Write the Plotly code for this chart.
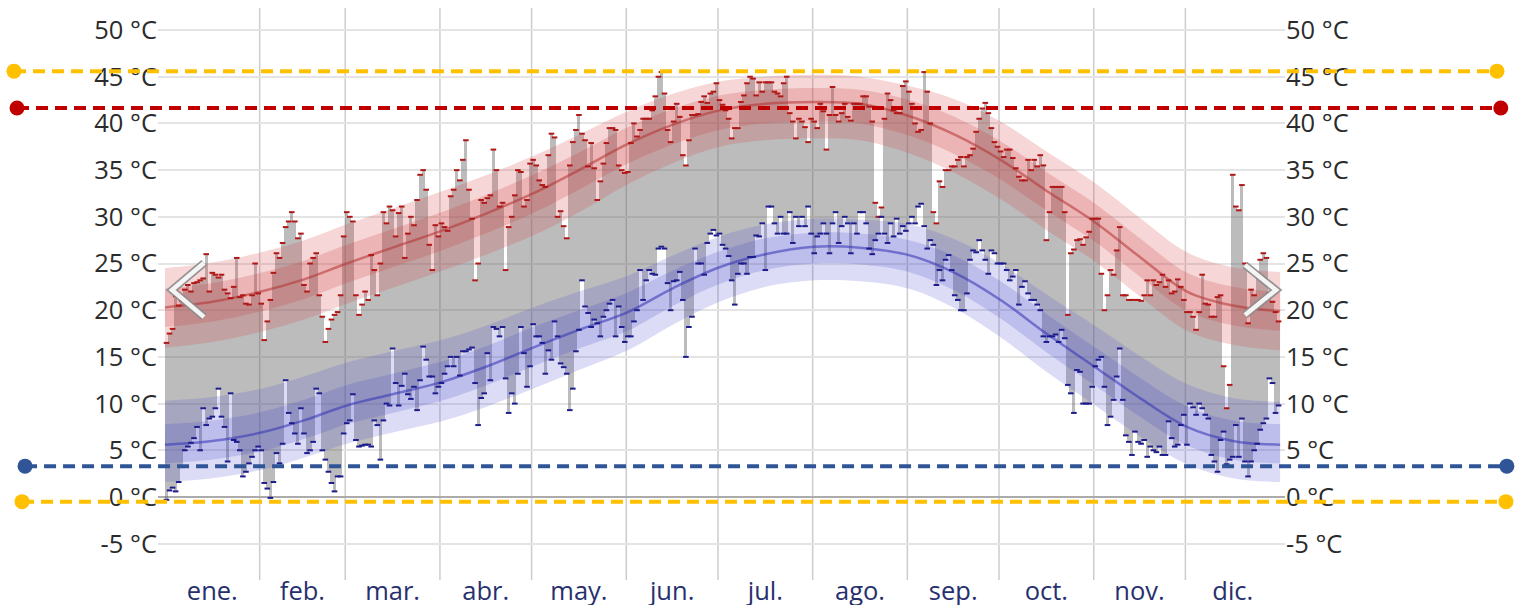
import plotly.graph_objects as go

# ---------------- data ----------------
MONTHS = ["ene.", "feb.", "mar.", "abr.", "may.", "jun.", "jul.", "ago.", "sep.", "oct.", "nov.", "dic."]
MONTH_DAYS = [31, 28, 31, 30, 31, 30, 31, 31, 30, 31, 30, 31]
Y_TICKS = [-5, 0, 5, 10, 15, 20, 25, 30, 35, 40, 45, 50]
Y_LABELS = ["-5 °C", "0 °C", "5 °C", "10 °C", "15 °C", "20 °C", "25 °C", "30 °C", "35 °C", "40 °C", "45 °C", "50 °C"]

# daily highs / lows (°C)
HIGH_JAN = [16.5, 17.5, 18.0, 21.5, 20.5, 21.0, 22.2, 22.7, 22.0, 22.9, 23.0, 23.2, 23.4, 26.0, 22.0, 24.0, 23.8, 23.5, 23.8, 22.2, 21.8, 21.3, 22.5, 25.6, 21.4, 21.6, 20.7, 20.6, 21.6, 25.0, 21.8]
LOW_JAN = [-0.3, 0.7, 1.0, 0.6, 1.6, 3.2, 5.0, 5.4, 5.8, 6.3, 7.5, 5.0, 9.5, 7.7, 8.4, 8.6, 9.5, 11.6, 8.6, 7.5, 3.8, 11.1, 6.1, 5.9, 5.0, 2.2, 2.7, 3.6, 4.3, 5.0, 5.4]
HIGH_FEB = [20.7, 16.8, 18.8, 21.1, 24.0, 26.1, 25.6, 27.2, 28.9, 29.5, 30.5, 29.5, 27.7, 28.2, 22.7, 22.0, 25.0, 25.6, 26.1, 21.6, 19.3, 16.6, 18.0, 19.0, 19.5, 19.8, 21.6, 27.9]
LOW_FEB = [5.0, 1.5, 0.9, -0.1, 1.6, 4.7, 3.6, 5.7, 12.5, 9.0, 7.9, 6.8, 5.7, 9.5, 6.8, 4.7, 5.0, 5.9, 11.6, 11.1, 5.0, 4.0, 2.7, 1.5, 0.6, 2.2, 2.2, 6.8]
HIGH_MAR = [30.5, 30.0, 29.5, 21.6, 19.5, 20.6, 22.0, 21.1, 25.9, 24.3, 21.6, 25.0, 30.5, 29.3, 31.1, 30.7, 27.9, 30.4, 31.1, 25.6, 28.2, 30.0, 29.1, 31.8, 34.5, 35.0, 32.9, 27.0, 24.3, 29.1, 27.9]
LOW_MAR = [7.9, 8.2, 11.0, 6.1, 5.4, 5.5, 5.6, 5.6, 5.4, 8.2, 7.7, 4.0, 8.2, 10.0, 9.8, 15.9, 12.2, 9.8, 11.9, 13.2, 11.0, 10.5, 11.8, 9.3, 12.5, 16.1, 14.7, 12.9, 12.9, 11.1, 11.8]
HIGH_APR = [29.3, 28.9, 28.5, 32.2, 32.9, 35.0, 33.9, 36.1, 38.2, 32.9, 29.8, 23.2, 25.0, 31.8, 31.5, 32.0, 32.3, 37.2, 35.0, 31.1, 31.5, 24.3, 28.9, 30.0, 32.3, 35.0, 34.8, 31.1, 31.8, 35.7]
LOW_APR = [12.2, 13.2, 14.0, 15.0, 14.0, 15.0, 13.0, 15.6, 15.6, 15.8, 16.0, 12.2, 7.7, 10.6, 11.1, 15.4, 12.5, 18.2, 18.0, 17.2, 18.2, 12.7, 9.0, 11.1, 10.0, 13.2, 18.2, 15.4, 11.8, 14.0]
HIGH_MAY = [36.1, 35.5, 33.9, 33.4, 33.2, 36.6, 38.9, 38.5, 30.0, 30.6, 29.0, 27.7, 35.5, 38.0, 39.3, 40.9, 38.9, 38.2, 35.4, 37.9, 35.2, 31.8, 33.8, 35.7, 37.9, 39.5, 39.5, 39.3, 35.5, 35.0, 34.7]
LOW_MAY = [18.5, 17.2, 17.2, 16.5, 13.2, 15.7, 14.7, 18.8, 17.2, 14.3, 13.9, 13.2, 9.3, 11.6, 15.6, 17.9, 23.2, 20.4, 19.7, 18.2, 19.0, 18.6, 17.2, 19.3, 20.0, 20.7, 21.1, 17.2, 20.4, 18.2, 16.6]
HIGH_JUN = [34.8, 37.9, 40.0, 38.6, 39.3, 40.5, 40.5, 40.5, 41.4, 42.9, 45.0, 45.5, 43.2, 39.3, 38.0, 40.2, 42.1, 40.7, 36.6, 35.5, 38.2, 40.9, 40.9, 41.0, 42.3, 42.9, 42.2, 43.2, 43.4, 44.3]
LOW_JUN = [17.2, 17.2, 18.8, 20.0, 24.3, 21.1, 23.2, 24.3, 23.9, 23.8, 26.6, 26.8, 26.6, 22.9, 20.0, 23.1, 23.2, 24.1, 21.1, 15.0, 18.2, 19.3, 26.6, 25.0, 25.0, 23.8, 27.2, 28.2, 28.6, 28.0]
HIGH_JUL = [42.5, 42.0, 41.4, 40.5, 38.4, 39.5, 39.5, 42.3, 43.0, 44.3, 45.0, 44.8, 43.0, 44.4, 43.4, 44.4, 44.4, 44.4, 43.4, 43.2, 42.9, 44.3, 45.0, 41.1, 40.2, 38.4, 40.5, 40.2, 39.6, 38.0, 40.5]
LOW_JUL = [28.2, 27.0, 26.6, 25.8, 23.2, 20.6, 23.9, 25.0, 25.0, 23.9, 25.7, 25.7, 28.0, 27.9, 29.3, 24.3, 31.1, 31.1, 29.3, 28.2, 30.0, 28.2, 28.2, 30.5, 27.2, 30.0, 29.0, 30.0, 29.0, 31.1, 28.2]
HIGH_AUG = [40.2, 39.5, 42.1, 41.3, 37.2, 40.9, 43.9, 40.9, 40.2, 41.1, 42.1, 40.7, 40.3, 42.1, 42.1, 42.1, 42.9, 42.9, 41.8, 40.2, 31.5, 30.0, 31.0, 40.5, 43.2, 42.5, 41.4, 41.1, 41.1, 44.0, 44.5]
LOW_AUG = [26.1, 27.9, 28.2, 29.3, 28.2, 26.1, 29.3, 30.5, 27.2, 29.0, 30.0, 29.3, 26.1, 29.3, 28.2, 30.5, 30.5, 29.3, 26.6, 26.0, 27.5, 28.2, 30.0, 28.2, 27.2, 29.3, 27.9, 29.8, 28.2, 29.0, 28.5]
HIGH_SEP = [43.4, 42.1, 40.0, 39.1, 39.3, 45.5, 43.4, 40.0, 30.5, 29.3, 33.8, 33.2, 35.0, 35.0, 35.4, 35.4, 36.1, 36.4, 35.4, 36.4, 36.6, 37.3, 39.1, 40.5, 41.6, 42.2, 41.1, 39.5, 38.0, 37.5]
LOW_SEP = [29.3, 30.0, 29.3, 31.1, 31.4, 29.0, 26.6, 27.5, 27.0, 22.7, 24.3, 23.2, 25.4, 25.9, 24.3, 21.6, 21.1, 20.0, 20.0, 21.8, 25.4, 26.4, 26.2, 27.5, 26.4, 25.4, 23.9, 26.4, 26.1, 25.0]
HIGH_OCT = [37.0, 36.4, 37.2, 37.2, 36.3, 35.2, 34.3, 33.9, 33.9, 36.1, 35.0, 36.1, 35.4, 36.6, 35.5, 27.5, 30.5, 33.2, 33.2, 33.2, 33.2, 30.5, 19.5, 26.1, 26.5, 27.5, 27.6, 27.0, 27.8, 28.4, 29.8]
LOW_OCT = [25.0, 25.0, 24.3, 23.2, 23.6, 24.3, 20.6, 22.5, 23.1, 21.8, 21.1, 21.1, 20.6, 20.0, 17.2, 16.6, 17.2, 17.2, 17.4, 16.6, 17.9, 17.0, 12.0, 11.1, 9.0, 13.6, 13.4, 10.0, 10.0, 10.0, 11.8]
HIGH_NOV = [29.8, 29.8, 23.9, 20.0, 21.6, 24.3, 23.8, 26.4, 28.9, 21.6, 21.6, 21.1, 21.1, 21.1, 21.1, 21.0, 21.6, 23.2, 21.6, 23.2, 22.7, 23.0, 23.8, 22.5, 23.2, 21.8, 22.0, 23.3, 22.5, 21.1]
LOW_NOV = [14.0, 14.7, 15.0, 11.8, 7.7, 8.6, 10.4, 12.9, 15.9, 10.4, 6.6, 5.9, 4.5, 7.0, 5.9, 5.7, 6.1, 4.3, 5.4, 5.0, 4.8, 5.4, 4.5, 4.5, 8.1, 6.3, 5.4, 5.6, 7.7, 8.8]
HIGH_DEC = [19.8, 19.8, 19.3, 17.9, 19.8, 23.8, 20.7, 20.6, 19.3, 19.3, 21.4, 21.6, 14.0, 9.5, 12.0, 34.5, 31.1, 30.7, 33.4, 25.0, 18.6, 22.2, 21.6, 23.9, 25.4, 26.1, 25.6, 21.8, 20.9, 19.8, 18.8]
LOW_DEC = [5.6, 10.0, 9.6, 8.8, 10.0, 9.5, 8.8, 8.4, 4.5, 3.8, 2.7, 6.1, 7.0, 3.5, 4.0, 4.3, 7.7, 4.3, 8.4, 3.8, 2.2, 3.8, 5.0, 5.7, 7.2, 7.9, 8.4, 12.7, 12.2, 9.0, 9.8]

# climatology bands (day of year -> °C)
BAND_DAYS = [-0.5, 15, 31, 45, 59, 74, 90, 105, 120, 135, 151, 166, 181, 196, 212, 227, 243, 258, 273, 288, 304, 319, 334, 349, 364.5]
HIGH_MEAN = [20.3, 20.9, 22.0, 23.3, 25.0, 26.7, 28.5, 30.4, 32.5, 35.0, 37.8, 39.9, 41.4, 42.1, 42.3, 42.1, 40.8, 38.8, 36.1, 32.8, 29.4, 25.6, 22.0, 20.5, 19.9]
HIGH_P90 = [24.5, 25.1, 26.2, 27.5, 29.2, 30.9, 32.7, 34.5, 36.5, 38.8, 41.3, 43.2, 44.5, 45.0, 45.2, 45.0, 44.0, 42.6, 40.2, 37.0, 33.6, 29.8, 26.2, 24.6, 24.1]
HIGH_P75 = [22.3, 22.9, 24.0, 25.3, 27.0, 28.7, 30.5, 32.4, 34.5, 36.9, 39.6, 41.6, 43.0, 43.6, 43.8, 43.6, 42.5, 40.7, 38.1, 34.8, 31.4, 27.6, 24.0, 22.5, 21.9]
HIGH_P25 = [18.2, 18.8, 19.9, 21.2, 22.9, 24.6, 26.4, 28.3, 30.4, 32.9, 35.7, 37.8, 39.3, 40.0, 40.2, 40.0, 38.7, 36.7, 34.0, 30.7, 27.3, 23.5, 19.9, 18.4, 17.8]
HIGH_P10 = [16.0, 16.6, 17.7, 19.0, 20.7, 22.4, 24.2, 26.0, 28.0, 30.5, 33.5, 35.8, 37.5, 38.2, 38.4, 38.2, 36.8, 34.7, 31.9, 28.6, 25.2, 21.4, 17.8, 16.3, 15.7]
LOW_MEAN = [5.6, 6.0, 6.9, 8.2, 9.8, 11.0, 12.3, 14.0, 16.0, 17.9, 19.8, 22.4, 24.6, 26.0, 26.8, 26.7, 25.9, 24.0, 21.1, 17.5, 13.9, 10.5, 7.5, 6.0, 5.6]
LOW_P90 = [10.3, 10.7, 11.6, 12.9, 14.4, 15.6, 16.8, 18.4, 20.3, 22.0, 23.7, 25.9, 27.9, 29.2, 29.8, 29.7, 29.2, 27.6, 25.0, 21.7, 18.3, 15.0, 12.1, 10.6, 10.2]
LOW_P75 = [7.8, 8.2, 9.1, 10.4, 12.0, 13.2, 14.5, 16.2, 18.2, 20.0, 21.9, 24.3, 26.3, 27.7, 28.3, 28.2, 27.5, 25.8, 23.1, 19.6, 16.0, 12.7, 9.7, 8.2, 7.8]
LOW_P25 = [3.6, 4.0, 4.9, 6.2, 7.8, 9.0, 10.3, 12.0, 14.0, 15.9, 17.8, 20.5, 22.8, 24.3, 25.0, 24.9, 24.1, 22.1, 19.1, 15.5, 11.9, 8.5, 5.5, 4.0, 3.6]
LOW_P10 = [1.6, 2.0, 2.9, 4.2, 5.7, 6.9, 8.1, 9.7, 11.6, 13.6, 15.7, 18.5, 20.9, 22.5, 23.2, 23.1, 22.3, 20.2, 17.1, 13.4, 9.8, 6.4, 3.5, 2.0, 1.6]

# reference lines (°C) drawn across the whole picture
THRESHOLDS = [45.6, 41.65, 3.3, -0.5]
THRESH_COLORS = ["#FFC000", "#C00000", "#2F5597", "#FFC000"]
THRESH_X0 = [0.0092, 0.0112, 0.0165, 0.0145]
THRESH_X1 = [0.9855, 0.9880, 0.9920, 0.9914]

HIGHS = (HIGH_JAN + HIGH_FEB + HIGH_MAR + HIGH_APR + HIGH_MAY + HIGH_JUN +
         HIGH_JUL + HIGH_AUG + HIGH_SEP + HIGH_OCT + HIGH_NOV + HIGH_DEC)
LOWS = (LOW_JAN + LOW_FEB + LOW_MAR + LOW_APR + LOW_MAY + LOW_JUN +
        LOW_JUL + LOW_AUG + LOW_SEP + LOW_OCT + LOW_NOV + LOW_DEC)
DAYS = list(range(len(HIGHS)))

month_starts = []
s = 0
for n in MONTH_DAYS:
    month_starts.append(s)
    s += n
month_mids = [st + (n - 1) / 2 for st, n in zip(month_starts, MONTH_DAYS)]

# ---------------- figure ----------------
W, H = 1519, 605
FONT = "Open Sans"
FS = 25.5
fig = go.Figure()

def band(lo, hi, color):
    fig.add_trace(go.Scatter(x=BAND_DAYS, y=lo, mode="lines", line=dict(width=0, shape="spline"),
                             hoverinfo="skip", showlegend=False))
    fig.add_trace(go.Scatter(x=BAND_DAYS, y=hi, mode="lines", line=dict(width=0, shape="spline"),
                             fill="tonexty", fillcolor=color, hoverinfo="skip", showlegend=False))

band(HIGH_P10, HIGH_P90, "rgba(214,70,70,0.22)")
band(HIGH_P25, HIGH_P75, "rgba(200,60,60,0.22)")
band(LOW_P10, LOW_P90, "rgba(80,80,210,0.20)")
band(LOW_P25, LOW_P75, "rgba(70,70,200,0.20)")

fig.add_trace(go.Scatter(x=BAND_DAYS, y=HIGH_MEAN, mode="lines",
                         line=dict(color="rgba(180,50,50,0.55)", width=2.5, shape="spline"),
                         hoverinfo="skip", showlegend=False))
fig.add_trace(go.Scatter(x=BAND_DAYS, y=LOW_MEAN, mode="lines",
                         line=dict(color="rgba(50,50,180,0.55)", width=2.5, shape="spline"),
                         hoverinfo="skip", showlegend=False))

fig.add_trace(go.Bar(x=DAYS, y=[h - l for h, l in zip(HIGHS, LOWS)], base=LOWS, width=1.0,
                     marker=dict(color="rgba(95,95,95,0.42)", line=dict(width=0)),
                     hoverinfo="skip", showlegend=False))

fig.add_trace(go.Scatter(x=DAYS, y=HIGHS, mode="markers",
                         marker=dict(symbol="line-ew", size=4, line=dict(width=2, color="#b01818")),
                         hoverinfo="skip", showlegend=False))
fig.add_trace(go.Scatter(x=DAYS, y=LOWS, mode="markers",
                         marker=dict(symbol="line-ew", size=4, line=dict(width=2, color="#1c1c8c")),
                         hoverinfo="skip", showlegend=False))

# invisible trace to carry the right-hand axis
fig.add_trace(go.Scatter(x=[DAYS[0]], y=[HIGHS[0]], yaxis="y2", mode="markers",
                         marker=dict(opacity=0), hoverinfo="skip", showlegend=False))

# reference dashed lines with end dots (full width, own axes so no extra grid)
for v, c, a, b in zip(THRESHOLDS, THRESH_COLORS, THRESH_X0, THRESH_X1):
    fig.add_trace(go.Scatter(x=[a, b], y=[v, v], xaxis="x2", yaxis="y3", mode="lines+markers",
                             line=dict(color=c, width=4, dash="12px,7px"),
                             marker=dict(color=c, size=15), cliponaxis=False,
                             hoverinfo="skip", showlegend=False))

shapes = []
for st in month_starts[1:]:
    shapes.append(dict(type="line", xref="x", yref="paper", x0=st - 0.5, x1=st - 0.5, y0=0, y1=1,
                       line=dict(color="rgba(0,0,0,0.2)", width=1.5), layer="below"))

# navigation chevrons
T_M, B_M = 8, 25
PH = H - T_M - B_M
def px(x):
    return x / W
def py(y):
    return (H - B_M - y) / PH
left_path = f"M {px(204)},{py(263)} L {px(172)},{py(290)} L {px(204)},{py(317)}"
right_path = f"M {px(1245)},{py(265)} L {px(1276)},{py(290)} L {px(1245)},{py(315)}"
for p in (left_path, right_path):
    shapes.append(dict(type="path", xref="paper", yref="paper", path=p,
                       line=dict(color="rgba(140,140,140,0.9)", width=8), layer="above"))
    shapes.append(dict(type="path", xref="paper", yref="paper", path=p,
                       line=dict(color="rgba(250,250,250,0.95)", width=4.5), layer="above"))

YR = [-8.89, 52.36]
fig.update_layout(
    width=W, height=H,
    margin=dict(l=0, r=0, t=T_M, b=B_M, autoexpand=False),
    paper_bgcolor="white", plot_bgcolor="rgba(0,0,0,0)",
    barmode="overlay", bargap=0,
    font=dict(family=FONT, size=FS, color="#2b2b2b"),
    showlegend=False, hovermode=False,
    shapes=shapes,
    xaxis=dict(domain=[158 / W, 1285 / W], range=[-2.78, 366.1], tickmode="array",
               tickvals=month_mids, ticktext=MONTHS, showgrid=False, zeroline=False,
               ticks="", showline=False, automargin=False, ticklabelstandoff=-7,
               tickfont=dict(family=FONT, size=FS, color="#27306e"), fixedrange=True),
    xaxis2=dict(domain=[0, 1], range=[0, 1], anchor="y3", visible=False, automargin=False,
                fixedrange=True),
    yaxis=dict(range=YR, tickmode="array", tickvals=Y_TICKS, ticktext=Y_LABELS,
               showgrid=True, gridcolor="#e4e4e4", gridwidth=1.5,
               zeroline=True, zerolinecolor="#ababab", zerolinewidth=2,
               ticks="", showline=False, automargin=False,
               tickfont=dict(family=FONT, size=FS, color="#2b2b2b"), fixedrange=True),
    yaxis2=dict(range=YR, overlaying="y", side="right", anchor="x", tickmode="array",
                tickvals=Y_TICKS, ticktext=Y_LABELS, showgrid=False, zeroline=False,
                ticks="", showline=False, automargin=False,
                tickfont=dict(family=FONT, size=FS, color="#2b2b2b"), fixedrange=True),
    yaxis3=dict(range=YR, domain=[0, 1], anchor="x2", visible=False, showgrid=False,
                zeroline=False, automargin=False, fixedrange=True),
)

fig.write_html("out.html", config={"displayModeBar": False},
               post_script="document.body.style.margin='0';")
